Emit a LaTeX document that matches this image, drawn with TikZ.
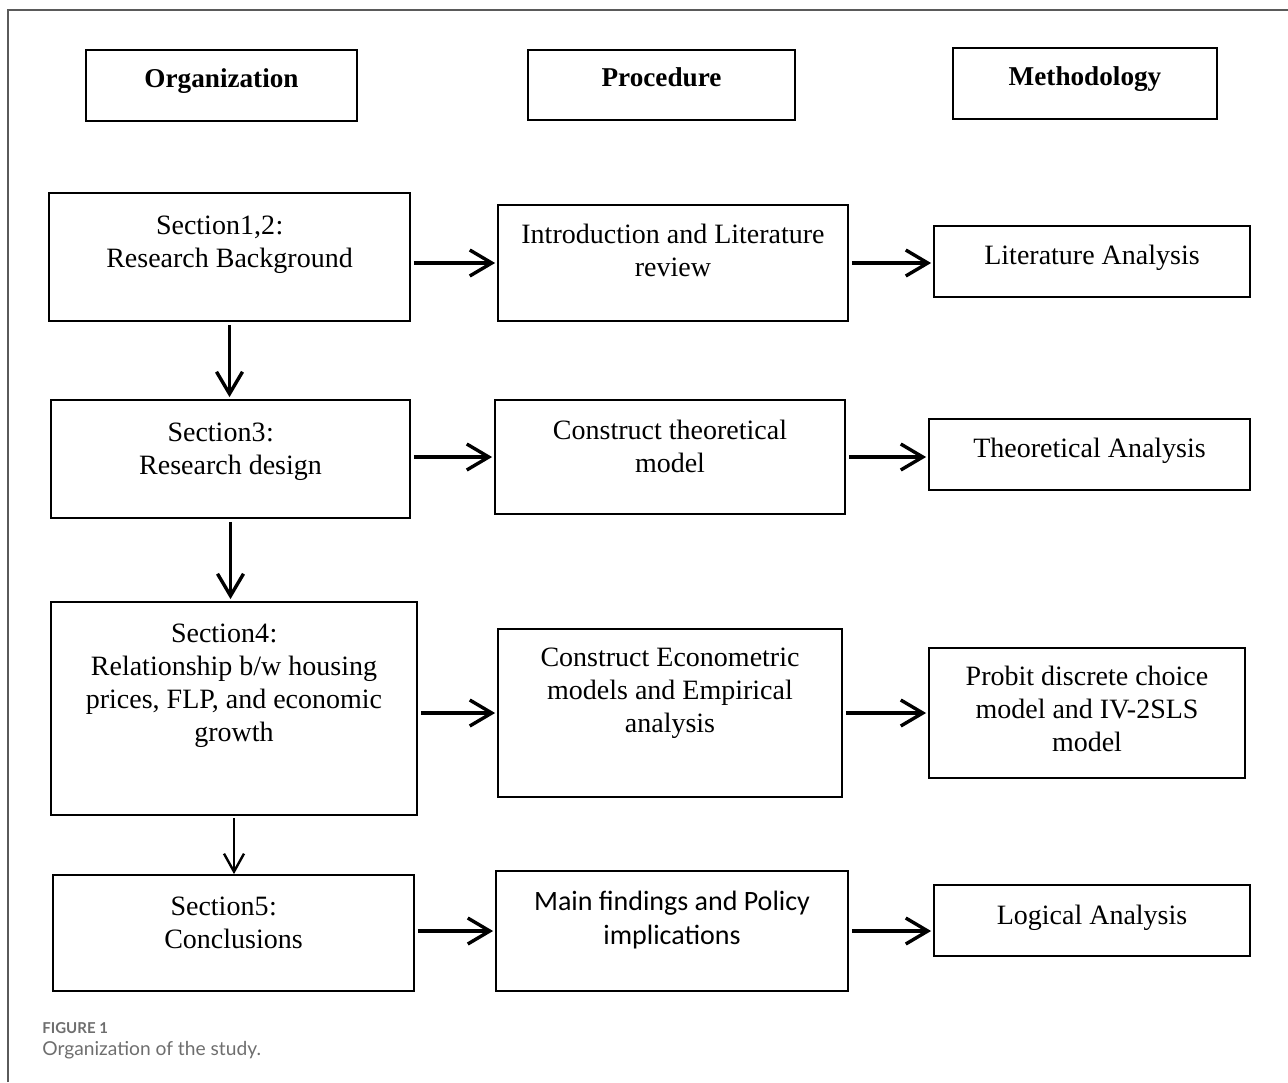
\documentclass[tikz,border=0pt]{standalone}
\usepackage{fontspec}
\setmainfont{Liberation Serif}
\newfontfamily\calib{Carlito}
\newfontfamily\capfont{Lato}
\usepackage{tikz}
\usetikzlibrary{arrows.meta}
\tikzset{>={Straight Barb[length=11pt,width=13pt]}}
\newcommand{\fwcolon}{\makebox[1em][l]{\hspace{0.02em}:}}
\definecolor{framegrey}{HTML}{5A5A5A}
\definecolor{capgrey}{HTML}{6E6E6E}

\begin{document}
\begin{tikzpicture}[x=0.5pt, y=-0.5pt,
  box/.style={draw, line width=0.9pt, rectangle, inner sep=0pt},
  txt/.style={anchor=center, align=center, inner sep=0pt,
    font=\fontsize{14}{16.5}\selectfont},
  head/.style={txt, font=\fontsize{13.6}{16}\selectfont\bfseries},
  arr/.style={->, line width=1.7pt, shorten <=1.5pt, shorten >=1pt},
  arrsmall/.style={->, line width=1.2pt, shorten <=1pt,
    >={Straight Barb[length=9pt,width=10pt]}}]
\useasboundingbox (0,0) rectangle (1288,1082);
\draw[framegrey, line width=0.75pt] (8,1082) -- (8,10) -- (1288,10);

% column headings
\node[box, minimum width=135.5pt, minimum height=35.5pt,
  label={[head, yshift=2.25pt]center:Organization}] (org) at (221.5,85.5) {};
\node[box, minimum width=133.5pt, minimum height=35pt,
  label={[head, yshift=4pt]center:Procedure}] (proc) at (661.5,85) {};
\node[box, minimum width=132pt, minimum height=35.5pt,
  label={[head, yshift=2.25pt]center:Methodology}] (meth) at (1085,83.5) {};

% sections
\node[box, minimum width=180.5pt, minimum height=64pt,
  label={[txt, yshift=6pt]center:{Section1,2\fwcolon\\Research Background}}] (s1) at (229.5,257) {};
\node[box, minimum width=179.5pt, minimum height=59pt,
  label={[txt, yshift=3.75pt]center:{Section3\fwcolon\\Research design}}] (s3) at (230.5,459) {};
\node[box, minimum width=183pt, minimum height=106.5pt,
  label={[txt, yshift=11.25pt]center:{Section4\fwcolon\\Relationship b/w housing\\prices, FLP, and economic\\growth}}] (s4) at (234,708.5) {};
\node[box, minimum width=180.5pt, minimum height=58pt,
  label={[txt, yshift=5pt]center:{Section5\fwcolon\\Conclusions}}] (s5) at (233.5,933) {};

% procedure
\node[box, minimum width=175pt, minimum height=58pt,
  label={[txt, yshift=6.5pt]center:{Introduction and Literature\\review}}] (p1) at (673,263) {};
\node[box, minimum width=175pt, minimum height=57pt,
  label={[txt, yshift=5.5pt]center:{Construct theoretical\\model}}] (p2) at (670,457) {};
\node[box, minimum width=172pt, minimum height=84pt,
  label={[txt, yshift=10pt]center:{Construct Econometric\\models and Empirical\\analysis}}] (p3) at (670,713) {};
\node[box, minimum width=176pt, minimum height=60pt,
  label={[txt, yshift=5.5pt, font=\calib\fontsize{14}{17}\selectfont]center:{Main findings and Policy\\implications}}] (p4) at (672,931) {};

% methodology
\node[box, minimum width=158pt, minimum height=35.5pt,
  label={[txt, yshift=1.75pt]center:{Literature Analysis}}] (m1) at (1092,261.5) {};
\node[box, minimum width=160.5pt, minimum height=35.5pt,
  label={[txt, yshift=1.75pt]center:{Theoretical Analysis}}] (m2) at (1089.5,454.5) {};
\node[box, minimum width=158pt, minimum height=65pt,
  label={[txt, yshift=2.25pt]center:{Probit discrete choice\\model and IV-2SLS\\model}}] (m3) at (1087,713) {};
\node[box, minimum width=158pt, minimum height=35.5pt,
  label={[txt, yshift=1.25pt]center:{Logical Analysis}}] (m4) at (1092,920.5) {};

% arrows
\path[arr]
(s1.east |- p1.west) edge (p1.west)
(p1.east) edge (m1.west |- p1.east)
(s3.east |- p2.west) edge (p2.west)
(p2.east) edge (m2.west |- p2.east)
(s4.east |- p3.west) edge (p3.west)
(p3.east) edge (m3.west |- p3.east)
(s5.east |- p4.west) edge (p4.west)
(p4.east) edge (m4.west |- p4.east)
(s1.south) edge (s1.south |- s3.north)
(s3.south) edge (s3.south |- s4.north);
\path[arrsmall] (s4.south) edge (s4.south |- s5.north);

% caption
\node[anchor=base west, inner sep=0pt, text=capgrey,
  font=\capfont\bfseries\fontsize{7.5}{9}\selectfont] (fig) at (42,1033.5) {FIGURE 1};
\node[anchor=base west, inner sep=0pt, text=capgrey,
  font=\capfont\fontsize{9.6}{11}\selectfont] (cap) at (42,1055) {Organization of the study.};
\end{tikzpicture}
\end{document}
